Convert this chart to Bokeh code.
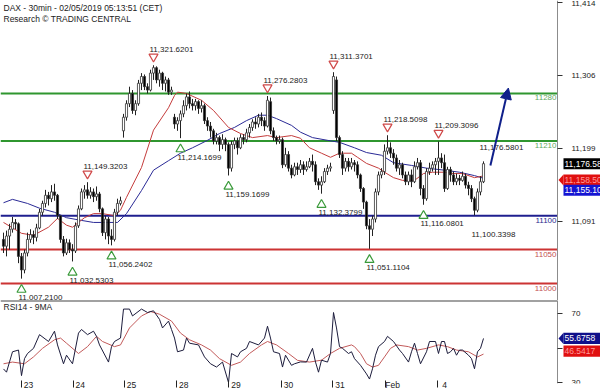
from bokeh.plotting import figure
from bokeh.layouts import column
from bokeh.models import Range1d, FixedTicker, Label, Arrow, NormalHead
from bokeh.core.properties import value
from bokeh.embed import file_html
from bokeh.resources import INLINE

FONT = "Liberation Sans"

title_line1 = "DAX - 30min - 02/05/2019 05:13:51 (CET)"
title_line2 = "Research \u00a9 TRADING CENTRAL"
rsi_title = "RSI14 - 9MA"

# ---- 30-min candles (bar index 0..160) ----
opens = [11065, 11055, 11070, 11080, 11090, 11088, 11040, 11020, 11045, 11065,
         11072, 11068, 11082, 11105, 11118, 11130, 11125, 11135, 11130, 11100,
         11065, 11045, 11060, 11050, 11048, 11085, 11110, 11135, 11138, 11130,
         11135, 11128, 11132, 11110, 11075, 11095, 11070, 11065, 11105, 11118,
         11225, 11245, 11265, 11280, 11255, 11265, 11295, 11305, 11290, 11285,
         11310, 11318, 11300, 11310, 11295, 11300, 11282, 11245, 11235, 11240,
         11250, 11262, 11275, 11265, 11262, 11268, 11258, 11262, 11240, 11232,
         11225, 11210, 11215, 11205, 11212, 11205, 11170, 11205, 11210, 11200,
         11215, 11212, 11222, 11230, 11238, 11235, 11245, 11240, 11232, 11268,
         11225, 11215, 11210, 11212, 11175, 11190, 11170, 11160, 11172, 11168,
         11175, 11168, 11172, 11180, 11175, 11150, 11145, 11150, 11165, 11170,
         11255, 11300, 11215, 11190, 11170, 11180, 11172, 11178, 11175, 11160,
         11140, 11120, 11085, 11080, 11095, 11135, 11160, 11165, 11195, 11200,
         11192, 11185, 11170, 11175, 11160, 11150, 11160, 11150, 11172, 11178,
         11140, 11125, 11165, 11170, 11175, 11180, 11185, 11178, 11140, 11168,
         11160, 11150, 11155, 11152, 11158, 11145, 11140, 11125, 11108, 11135,
         11150]
highs = [11075, 11078, 11088, 11098, 11095, 11090, 11045, 11050, 11075, 11080,
         11078, 11088, 11110, 11122, 11138, 11135, 11145, 11147, 11132, 11100,
         11070, 11066, 11065, 11058, 11090, 11115, 11140, 11145, 11149.3203, 11142,
         11140, 11143, 11135, 11112, 11100, 11098, 11080, 11110, 11125, 11128,
         11250, 11270, 11290, 11285, 11270, 11300, 11310, 11308, 11295, 11315,
         11321.6201, 11320, 11315, 11312, 11305, 11303, 11290, 11250, 11245, 11255,
         11270, 11280, 11283, 11272, 11272, 11270, 11270, 11265, 11245, 11238,
         11228, 11222, 11218, 11220, 11215, 11208, 11210, 11215, 11215, 11220,
         11220, 11228, 11235, 11242, 11245, 11250, 11252, 11245, 11276.2803, 11274,
         11230, 11218, 11218, 11215, 11200, 11195, 11175, 11178, 11178, 11182,
         11180, 11180, 11185, 11190, 11180, 11155, 11158, 11170, 11175, 11178,
         11311.3701, 11305, 11218, 11195, 11185, 11185, 11185, 11182, 11180, 11162,
         11142, 11122, 11095, 11100, 11140, 11165, 11170, 11205, 11218.5098, 11208,
         11198, 11190, 11182, 11178, 11165, 11165, 11168, 11180, 11185, 11182,
         11145, 11170, 11178, 11180, 11185, 11209.3096, 11192, 11190, 11172, 11172,
         11165, 11162, 11160, 11165, 11162, 11150, 11145, 11128, 11140, 11158,
         11180]
lows = [11045, 11040, 11050, 11075, 11080, 11030, 11007.21, 11015, 11040, 11060,
        11058, 11062, 11080, 11100, 11112, 11115, 11120, 11122, 11095, 11060,
        11040, 11042, 11045, 11032.5303, 11045, 11082, 11108, 11125, 11125, 11125,
        11120, 11122, 11105, 11070, 11065, 11058, 11056.2402, 11062, 11100, 11115,
        11215, 11240, 11260, 11250, 11248, 11262, 11285, 11285, 11280, 11283,
        11300, 11295, 11290, 11285, 11283, 11278, 11278, 11228, 11225, 11214.1699,
        11245, 11255, 11258, 11255, 11255, 11250, 11252, 11235, 11225, 11215,
        11205, 11205, 11195, 11198, 11195, 11159.1699, 11165, 11198, 11190, 11198,
        11205, 11208, 11215, 11225, 11228, 11230, 11232, 11225, 11230, 11220,
        11210, 11205, 11206, 11170, 11172, 11165, 11155, 11158, 11160, 11163,
        11160, 11165, 11170, 11165, 11145, 11138, 11132.3799, 11148, 11160, 11165,
        11250, 11210, 11185, 11160, 11165, 11165, 11168, 11165, 11155, 11135,
        11110, 11080, 11051.1104, 11070, 11090, 11130, 11155, 11160, 11190, 11185,
        11175, 11165, 11160, 11155, 11145, 11145, 11142, 11148, 11168, 11130,
        11116.0801, 11122, 11160, 11165, 11160, 11160, 11170, 11135, 11138, 11150,
        11145, 11145, 11145, 11150, 11140, 11130, 11120, 11100.3398, 11105, 11130,
        11148]
closes = [11055, 11070, 11080, 11090, 11088, 11040, 11020, 11045, 11065, 11072,
          11068, 11082, 11105, 11118, 11130, 11125, 11135, 11130, 11100, 11065,
          11045, 11060, 11050, 11048, 11085, 11110, 11135, 11138, 11130, 11135,
          11128, 11132, 11110, 11075, 11095, 11070, 11065, 11105, 11118, 11122,
          11245, 11265, 11280, 11255, 11265, 11295, 11305, 11290, 11285, 11310,
          11318, 11300, 11310, 11295, 11300, 11282, 11285, 11235, 11240, 11250,
          11262, 11275, 11265, 11262, 11268, 11258, 11262, 11240, 11232, 11225,
          11210, 11215, 11205, 11212, 11205, 11170, 11205, 11210, 11200, 11215,
          11212, 11222, 11230, 11238, 11235, 11245, 11240, 11232, 11270, 11225,
          11215, 11210, 11212, 11175, 11190, 11170, 11160, 11172, 11168, 11175,
          11168, 11172, 11180, 11175, 11150, 11145, 11150, 11165, 11170, 11172,
          11305, 11215, 11190, 11170, 11180, 11172, 11178, 11175, 11160, 11140,
          11120, 11085, 11080, 11095, 11135, 11160, 11165, 11195, 11200, 11192,
          11185, 11170, 11175, 11160, 11150, 11160, 11150, 11172, 11178, 11140,
          11125, 11165, 11170, 11175, 11180, 11185, 11178, 11140, 11168, 11160,
          11150, 11155, 11152, 11158, 11145, 11140, 11125, 11108, 11135, 11150,
          11176.5801]

# ---- moving averages (read at sample bars) ----
ma_red_bar = [0, 6, 10, 15, 18, 21, 23, 27, 30, 33, 37, 39, 41, 46, 50, 55, 57, 58, 61, 66,
              70, 75, 79, 83, 88, 91, 96, 99, 102, 106, 109, 112, 116, 118, 121, 125, 127,
              130, 133, 137, 140, 143, 147, 150, 153, 157, 160]
ma_red_val = [11090, 11074, 11071, 11083, 11096, 11086, 11083, 11097, 11103, 11103, 11100,
              11108, 11127, 11171, 11226, 11259, 11277, 11282, 11280, 11270, 11255, 11230,
              11221, 11215, 11218, 11215, 11218, 11214, 11200, 11192, 11186, 11192, 11192,
              11186, 11177, 11170, 11164, 11156, 11152, 11152, 11162, 11164, 11164, 11162,
              11162, 11156, 11158.5]
ma_blue_bar = [0, 3, 8, 12, 17, 21, 26, 30, 35, 38, 41, 46, 50, 55, 59, 63, 68, 72, 77, 81,
               85, 88, 91, 96, 99, 103, 108, 112, 117, 121, 126, 130, 136, 141, 147, 152,
               157, 160]
ma_blue_val = [11119, 11124, 11118, 11111, 11105, 11097, 11093, 11090, 11090, 11090, 11103,
               11137, 11167, 11181, 11192, 11200, 11211, 11221, 11230, 11240, 11248, 11248,
               11243, 11233, 11223, 11215, 11211, 11208, 11200, 11193, 11189, 11178, 11174,
               11170, 11167, 11164, 11159, 11155.1]

# ---- support / resistance levels ----
levels = [11280, 11210, 11100, 11050, 11000]
level_kind = ["res", "res", "pivot", "sup", "sup"]

# ---- swing markers ----
swing_high_bar = [28, 50, 88, 110, 128, 145]
swing_high_val = [11149.3203, 11321.6201, 11276.2803, 11311.3701, 11218.5098, 11209.3096]
swing_low_bar = [6, 23, 36, 59, 75, 106, 122, 140]
swing_low_val = [11007.2100, 11032.5303, 11056.2402, 11214.1699, 11159.1699, 11132.3799,
                 11051.1104, 11116.0801]
note_low_bar = [157]
note_low_val = [11100.3398]
note_high_bar = [160]
note_high_val = [11176.5801]

# ---- forecast arrow ----
arrow_bar = [162.3, 168.3]
arrow_val = [11174, 11288]

# ---- price axis ----
price_ticks = [11414, 11306, 11199, 11091]
price_tick_labels = ["11,414", "11,306", "11,199", "11,091"]

# ---- RSI(14) and its 9-period MA ----
rsi_bar = [0, 1, 3, 5, 6, 7, 8, 10, 12, 15, 17, 18, 20, 21, 23, 25, 26, 28, 30, 31, 32, 35,
           36, 37, 39, 40, 42, 43, 46, 48, 50, 52, 53, 55, 56, 57, 58, 60, 61, 62, 65, 67,
           69, 71, 73, 75, 76, 78, 79, 81, 82, 85, 87, 88, 89, 90, 92, 93, 94, 96, 97, 99,
           101, 103, 104, 105, 106, 108, 109, 110, 111, 112, 113, 115, 116, 117, 119, 121,
           122, 123, 124, 125, 127, 128, 130, 132, 133, 135, 136, 137, 138, 139, 141, 142,
           144, 145, 146, 147, 148, 149, 150, 151, 152, 153, 155, 156, 157, 158, 159, 160]
rsi_val = [37.9, 36.0, 47.9, 48.9, 34.0, 43.9, 46.9, 49.9, 57.9, 53.9, 59.9, 51.9, 40.9, 45.9,
           40.9, 58.8, 60.9, 57.9, 59.9, 56.9, 51.9, 41.9, 50.9, 53.9, 55.9, 72.8, 72.8, 68.8,
           72.8, 70.8, 71.8, 66.8, 61.8, 65.8, 60.9, 55.9, 47.9, 48.9, 55.9, 52.9, 51.9, 44.9,
           40.9, 39.0, 41.9, 30.0, 46.9, 44.9, 47.9, 49.9, 53.9, 51.9, 55.9, 62.8, 55.9, 47.9,
           46.9, 39.0, 45.9, 40.0, 40.9, 42.0, 41.9, 49.9, 41.9, 36.0, 43.0, 41.9, 46.9, 70.8,
           61.8, 50.9, 49.9, 46.9, 47.9, 43.9, 40.0, 35.0, 32.0, 38.0, 45.9, 50.9, 53.9, 56.9,
           53.9, 48.9, 46.9, 41.9, 47.9, 52.9, 46.9, 40.9, 47.9, 53.9, 53.9, 46.9, 53.9, 53.9,
           46.9, 47.9, 49.9, 45.9, 48.9, 48.9, 45.9, 43.9, 38.0, 47.9, 49.9, 55.6758]
rsi_ma_bar = [0, 3, 7, 10, 13, 17, 19, 21, 25, 28, 31, 33, 37, 39, 42, 46, 49, 52, 56, 59,
              62, 66, 69, 72, 76, 79, 82, 86, 88, 91, 95, 98, 102, 106, 109, 112, 116, 117,
              119, 121, 123, 125, 127, 129, 131, 135, 138, 141, 145, 148, 151, 155, 158, 160]
rsi_ma_val = [40.9, 41.9, 40.9, 44.9, 49.9, 54.9, 55.9, 52.9, 46.9, 50.9, 56.9, 53.9, 50.9,
              51.9, 61.8, 68.8, 71.4, 69.8, 65.8, 58.8, 54.9, 51.9, 48.9, 43.9, 40.0, 41.9,
              46.9, 51.9, 53.9, 51.9, 46.9, 42.9, 41.9, 43.0, 46.9, 49.9, 51.9, 50.9, 46.9,
              40.9, 39.0, 40.0, 44.9, 49.9, 51.9, 50.9, 48.9, 49.9, 51.9, 50.9, 48.9, 47.9,
              44.9, 46.5417]
rsi_ticks = [30, 50, 70]

# ---- date axis ----
day_start_bar = [5.9, 23.2, 40.3, 57.7, 75.1, 92.6, 109.8, 127.3, 144.6]
day_labels = ["23", "24", "25", "28", "29", "30", "31", "Feb", "4"]

# ================= styling / geometry =================
C_RES = "#2f962f"
C_RES_T = "#5fa85f"
C_PIV = "#1f1f8f"
C_SUP = "#cc3333"
C_SUP_T = "#c45050"
C_MA_RED = "#c43c3c"
C_MA_BLUE = "#2a2a96"
C_ARROW = "#0f1f8a"

PX_PER_BAR = 3.0
X0 = -1.0                         # left edge of canvas (bar units)
X_AXIS = X0 + 557 / PX_PER_BAR    # price axis line position
X_END = X0 + 600 / PX_PER_BAR     # right edge of canvas
Y0, Y1 = 10975.0, 11417.0
MAIN_H = 300
px_per_pt = MAIN_H / (Y1 - Y0)

main = figure(width=600, height=MAIN_H, x_range=Range1d(X0, X_END), y_range=Range1d(Y0, Y1),
              output_backend="svg", toolbar_location=None, x_axis_location=None,
              y_axis_location="right", min_border_left=0, min_border_right=0,
              min_border_top=0, min_border_bottom=0)
main.xgrid.visible = False
main.ygrid.visible = False
main.outline_line_color = None
main.background_fill_color = "white"
main.border_fill_color = "white"


def style_value_axis(a, ticks, overrides=None):
    a.fixed_location = X_AXIS
    a.ticker = FixedTicker(ticks=ticks)
    if overrides:
        a.major_label_overrides = overrides
    a.axis_line_color = "#8c8c8c"
    a.major_tick_line_color = "#333333"
    a.major_tick_in = 0
    a.major_tick_out = 5
    a.minor_tick_line_color = None
    a.major_label_standoff = 9
    a.major_label_text_font = FONT
    a.major_label_text_font_size = "8px"
    a.major_label_text_color = "#222222"


style_value_axis(main.yaxis[0], price_ticks,
                 {t: s for t, s in zip(price_ticks, price_tick_labels)})

# levels
lvl_col = {"res": C_RES, "pivot": C_PIV, "sup": C_SUP}
lvl_tcol = {"res": C_RES_T, "pivot": C_PIV, "sup": C_SUP_T}
main.segment(x0=[X0] * len(levels), y0=levels, x1=[X_AXIS] * len(levels), y1=levels,
             line_color=[lvl_col[k] for k in level_kind], line_width=2)
main.text(x=[X_AXIS] * len(levels), y=levels, text=[str(v) for v in levels],
          text_color=[lvl_tcol[k] for k in level_kind], text_align="right",
          text_baseline="top", x_offset=-1, y_offset=2,
          text_font=value(FONT), text_font_size="8px")

# moving averages
main.line(ma_blue_bar, ma_blue_val, line_color=C_MA_BLUE, line_width=1)
main.line(ma_red_bar, ma_red_val, line_color=C_MA_RED, line_width=1)

# candles
bars = list(range(len(closes)))
main.segment(x0=bars, y0=lows, x1=bars, y1=highs, line_color="#222222", line_width=1)
tops = [max(o, c) for o, c in zip(opens, closes)]
bots = [min(o, c) for o, c in zip(opens, closes)]
fills = ["white" if c >= o else "black" for o, c in zip(opens, closes)]
main.vbar(x=bars, width=0.7, top=tops, bottom=bots, fill_color=fills,
          line_color="#333333", line_width=0.8)

# swing markers
main.scatter(swing_high_bar, [v + 8.5 / px_per_pt for v in swing_high_val],
             marker="inverted_triangle", size=9, fill_color="white", line_color="#d04a4a",
             line_width=1.2)
main.scatter(swing_low_bar, [v - 11 / px_per_pt for v in swing_low_val],
             marker="triangle", size=9, fill_color="white", line_color="#3a9a3a",
             line_width=1.2)
fmt = lambda v: f"{v:,.4f}"
main.text(x=swing_high_bar + note_high_bar, y=swing_high_val + note_high_val,
          text=[fmt(v) for v in swing_high_val + note_high_val],
          x_offset=-4, y_offset=-16, text_baseline="middle", text_align="left",
          text_font=value(FONT), text_font_size="8px", text_color="#222222")
main.text(x=swing_low_bar + note_low_bar, y=swing_low_val + note_low_val,
          text=[fmt(v) for v in swing_low_val + note_low_val],
          x_offset=-3, y_offset=19, text_baseline="middle", text_align="left",
          text_font=value(FONT), text_font_size="8px", text_color="#222222")

# forecast arrow
main.add_layout(Arrow(end=NormalHead(size=11, fill_color=C_ARROW, line_color=C_ARROW),
                      x_start=arrow_bar[0], y_start=arrow_val[0],
                      x_end=arrow_bar[1], y_end=arrow_val[1],
                      line_color=C_ARROW, line_width=2))

# titles
main.add_layout(Label(x=3, y=MAIN_H - 7, x_units="screen", y_units="screen", text=title_line1,
                      text_font=FONT, text_font_size="8.5px", text_color="#222222",
                      text_baseline="middle"))
main.add_layout(Label(x=3, y=MAIN_H - 18, x_units="screen", y_units="screen", text=title_line2,
                      text_font=FONT, text_font_size="8.5px", text_color="#222222",
                      text_baseline="middle"))


# last-value tags beside the value axis
def tag(fig, val, shift_px, scale, text, bg, fg, pointer):
    y = val - shift_px / scale
    h = 5.5 / scale
    left = X_AXIS + 6 / PX_PER_BAR
    r = fig.quad(left=[left], right=[X_END], top=[y + h], bottom=[y - h],
                 fill_color=bg, line_color=None)
    r.level = "overlay"
    if pointer:
        rp = fig.patch([X_AXIS + 1 / PX_PER_BAR, left, left], [y, y + h, y - h],
                       fill_color=bg, line_color=None)
        rp.level = "overlay"
    rt = fig.text(x=[left + 1 / PX_PER_BAR], y=[y], text=[text], text_color=fg,
                  text_baseline="middle", text_align="left",
                  text_font=value(FONT), text_font_size="8.5px")
    rt.level = "overlay"


tag(main, closes[-1], 0, px_per_pt, fmt(closes[-1]), "black", "white", False)
tag(main, ma_red_val[-1], 4, px_per_pt, fmt(ma_red_val[-1]), "#e01010", "#ff9a9a", True)
tag(main, ma_blue_val[-1], 12, px_per_pt, fmt(ma_blue_val[-1]), "#1414d2", "white", False)

# ================= RSI panel =================
R0, R1 = 29.4, 77.8
RSI_H = 92
rsi_scale = 1.675
rsi = figure(width=600, height=RSI_H, x_range=main.x_range, y_range=Range1d(R0, R1),
             output_backend="svg", toolbar_location=None, y_axis_location="right",
             min_border_left=0, min_border_right=0, min_border_top=0, min_border_bottom=0)
rsi.xgrid.visible = False
rsi.ygrid.visible = False
rsi.outline_line_color = None
rsi.background_fill_color = "white"
rsi.border_fill_color = "white"

style_value_axis(rsi.yaxis[0], rsi_ticks)

xa = rsi.xaxis[0]
label_pos = [d + 2.4 for d in day_start_bar]
xa.ticker = FixedTicker(ticks=label_pos, minor_ticks=day_start_bar)
xa.major_label_overrides = {p: s for p, s in zip(label_pos, day_labels)}
xa.axis_line_color = None
xa.major_tick_line_color = None
xa.major_tick_in = 0
xa.major_tick_out = 0
xa.minor_tick_line_color = "#222222"
xa.minor_tick_in = 3
xa.minor_tick_out = 4
xa.major_label_standoff = -8
xa.major_label_text_font = FONT
xa.major_label_text_font_size = "8.5px"
xa.major_label_text_color = "#222222"

rsi.segment(x0=[X0], y0=[R1], x1=[X_AXIS], y1=[R1], line_color="#444444", line_width=2)
rsi.line(rsi_ma_bar, rsi_ma_val, line_color="#c25a5a", line_width=1)
rsi.line(rsi_bar, rsi_val, line_color="#1c1c3c", line_width=1)
rsi.add_layout(Label(x=3, y=R1 - 6 / rsi_scale, x_units="screen", y_units="data",
                     text=rsi_title, text_font=FONT, text_font_size="8.5px",
                     text_color="#222222", text_baseline="middle"))

tag(rsi, rsi_val[-1], 0, rsi_scale, f"{rsi_val[-1]:.4f}", "#10108a", "white", True)
tag(rsi, rsi_ma_val[-1], -3, rsi_scale, f"{rsi_ma_val[-1]:.4f}", "#e01010", "#ff9a9a", False)

layout = column(main, rsi, spacing=0)
open("out.html", "w").write(file_html(layout, INLINE))
